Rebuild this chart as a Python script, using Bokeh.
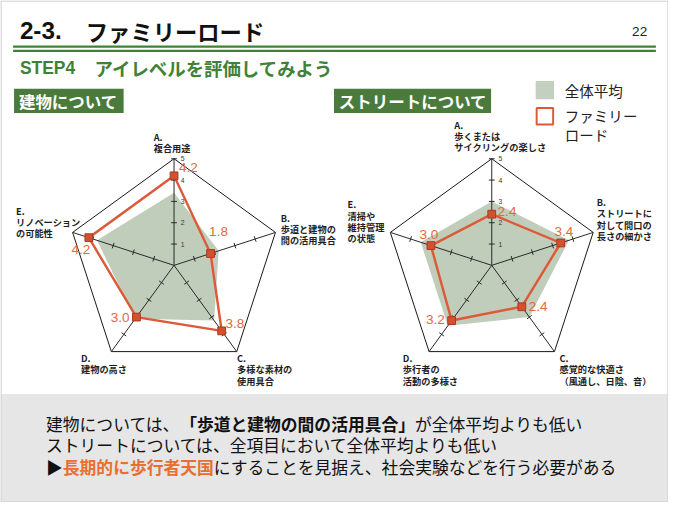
import math
from bokeh.plotting import figure
from bokeh.models import Range1d, ColumnDataSource
from bokeh.core.properties import value, field
from bokeh.embed import file_html
from bokeh.resources import INLINE

# ---------------- data ----------------
building_categories = ["A.\n複合用途", "B.\n歩道と建物の\n間の活用具合", "C.\n多様な素材の\n使用具合",
                       "D.\n建物の高さ", "E.\nリノベーション\nの可能性"]
building_family = [4.2, 1.8, 3.8, 3.0, 4.2]
building_average = [3.4, 2.2, 3.2, 3.1, 3.8]

street_categories = ["A.\n歩くまたは\nサイクリングの楽しさ", "B.\nストリートに\n対して間口の\n長さの細かさ",
                     "C.\n感覚的な快適さ\n（風通し、日陰、音）", "D.\n歩行者の\n活動の多様さ",
                     "E.\n清掃や\n維持管理\nの状態"]
street_family = [2.4, 3.4, 2.4, 3.2, 3.0]
street_average = [3.0, 3.8, 3.0, 3.5, 3.5]

scale_ticks = [1, 2, 3, 4, 5]
max_value = 5
legend_labels = ["全体平均", "ファミリー", "ロード"]

# ---------------- style / layout ----------------
W, H = 668, 502          # canvas in screen px
SW, SH = 689, 518        # slide coordinate system
S = W / SW               # screen px per slide unit


def fs(n):
    return f"{n * S:.2f}px"


JP = "Noto Sans CJK JP"
LAT = "Liberation Sans"
GREEN = "#3f8236"
BOX_GREEN = "#4a7a3c"
AVG_FILL = "#bfcdba"
ORANGE = "#dc5a38"
LABEL_ORANGE = "#e4683f"
R = 110.0
ANGLES = [90, 18, -54, -126, 162]
CAT_LINE = 11.6

p = figure(width=W, height=H, x_range=Range1d(0, SW), y_range=Range1d(SH, 0),
           output_backend="svg", toolbar_location=None, x_axis_type=None, y_axis_type=None,
           min_border=0)
p.grid.visible = False
p.outline_line_color = None
p.background_fill_color = "white"
p.border_fill_color = "white"

# header
p.text(x=[20], y=[31], text=["2-3."], text_font=value(LAT), text_font_style="bold",
       text_font_size=fs(25), text_baseline="middle", text_color="#111111")
p.text(x=[88], y=[31], text=["ファミリーロード"], text_font=value(JP), text_font_style="bold",
       text_font_size=fs(23), text_baseline="middle", text_color="#111111")
p.text(x=[667], y=[32], text=["22"], text_font=value(LAT), text_font_size=fs(14),
       text_baseline="middle", text_align="right", text_color="#222222")
p.segment(x0=[13, 13], x1=[676, 676], y0=[47.7, 51.9], y1=[47.7, 51.9],
          line_color=GREEN, line_width=2.3 * S)
p.text(x=[20], y=[70], text=["STEP4"], text_font=value(LAT), text_font_style="bold",
       text_font_size=fs(18), text_baseline="middle", text_color=GREEN)
p.text(x=[97], y=[70], text=["アイレベルを評価してみよう"], text_font=value(JP), text_font_style="bold",
       text_font_size=fs(19), text_baseline="middle", text_color=GREEN)

# section boxes
p.quad(left=[14, 344], right=[127, 506], top=[91, 91], bottom=[116, 116],
       fill_color=BOX_GREEN, line_color=None)
p.text(x=[19, 349], y=[103.5, 103.5], text=["建物について", "ストリートについて"],
       text_font=value(JP), text_font_style="bold", text_font_size=fs(17),
       text_baseline="middle", text_color="white")

# legend
p.quad(left=[552], right=[571], top=[83], bottom=[102], fill_color="#c3d0c0", line_color=None)
p.quad(left=[553], right=[570], top=[111], bottom=[128], fill_color="white",
       line_color=ORANGE, line_width=2 * S)
p.text(x=[582, 582, 582], y=[92.5, 118.5, 138.5], text=legend_labels, text_font=value(JP),
       text_font_size=fs(15), text_baseline="middle", text_color="#222222")


def pt(cx, cy, v, k):
    a = math.radians(ANGLES[k])
    r = R * v / max_value
    return cx + r * math.cos(a), cy - r * math.sin(a)


def radar(cx, cy, family, average, cats, cat_pos, val_off):
    n = len(family)
    # average polygon
    ax = [pt(cx, cy, average[k], k)[0] for k in range(n)]
    ay = [pt(cx, cy, average[k], k)[1] for k in range(n)]
    p.patch(ax, ay, fill_color=AVG_FILL, line_color=None)
    # outer pentagon
    ox = [pt(cx, cy, max_value, k)[0] for k in range(n)] + [pt(cx, cy, max_value, 0)[0]]
    oy = [pt(cx, cy, max_value, k)[1] for k in range(n)] + [pt(cx, cy, max_value, 0)[1]]
    p.line(ox, oy, line_color="#1a1a1a", line_width=1)
    # spokes
    p.segment(x0=[cx] * n, y0=[cy] * n, x1=ox[:n], y1=oy[:n], line_color="#2a2a2a", line_width=1)
    # ticks
    tx0, ty0, tx1, ty1 = [], [], [], []
    for k in range(n):
        a = math.radians(ANGLES[k])
        nx, ny = math.sin(a), math.cos(a)
        for t in scale_ticks:
            if k != 0 and t == max_value:
                continue
            x, y = pt(cx, cy, t, k)
            tx0.append(x - 3 * nx); ty0.append(y - 3 * ny)
            tx1.append(x + 3 * nx); ty1.append(y + 3 * ny)
    p.segment(x0=tx0, y0=ty0, x1=tx1, y1=ty1, line_color="#2a2a2a", line_width=1)
    # scale numbers on A axis
    p.text(x=[cx + 7] * len(scale_ticks), y=[pt(cx, cy, t, 0)[1] for t in scale_ticks],
           text=[str(t) for t in scale_ticks], text_font=value(LAT), text_font_size=fs(7),
           text_baseline="middle", text_color="#333333")
    # family line + markers
    fx = [pt(cx, cy, family[k], k)[0] for k in range(n)]
    fy = [pt(cx, cy, family[k], k)[1] for k in range(n)]
    p.line(fx + [fx[0]], fy + [fy[0]], line_color=ORANGE, line_width=2.5 * S, line_join="miter")
    p.scatter(fx, fy, marker="square", size=8 * S, fill_color="#d4502f", line_color="#a83a22",
              line_width=1)
    # value labels
    src = ColumnDataSource(dict(x=fx, y=fy, t=[f"{v:.1f}" for v in family],
                                dx=[o[0] * S for o in val_off], dy=[o[1] * S for o in val_off],
                                al=[o[2] for o in val_off]))
    p.text(x="x", y="y", text="t", x_offset=field("dx"), y_offset=field("dy"),
           text_align=field("al"), source=src, text_font=value(LAT), text_font_size=fs(14),
           text_baseline="middle", text_color=LABEL_ORANGE)
    # category labels, one text per line
    lx, ly, lt = [], [], []
    for cat, (x0, y0) in zip(cats, cat_pos):
        for i, line in enumerate(cat.split("\n")):
            lx.append(x0); ly.append(y0 + i * CAT_LINE); lt.append(line)
    p.text(x=lx, y=ly, text=lt, text_font=value(JP), text_font_style="bold",
           text_font_size=fs(9.5), text_baseline="middle", text_align="left", text_color="#1e1e1e")


radar(179, 273.3, building_family, building_average, building_categories,
      [(158, 140.5), (289, 224), (244, 369), (83, 369), (16, 217)],
      [(5, -9, "left"), (-1.5, -23, "left"), (4, -7.5, "left"), (-7, 0, "right"), (1.5, 12.5, "right")])
radar(506.7, 273.3, street_family, street_average, street_categories,
      [(468, 128), (615, 208), (576.5, 369), (415, 369), (358, 210.5)],
      [(6, -3, "left"), (-6.5, -11.5, "left"), (7, -0.5, "left"), (-7, -1.5, "right"), (-2, -11, "center")])

# bottom summary box
p.quad(left=[0], right=[SW], top=[406], bottom=[SH], fill_color="#e6e6e6", line_color=None)
FS = 17.3
lines = [
    (437, [("建物については、", "normal", "#111111"), ("「歩道と建物の間の活用具合」", "bold", "#111111"),
           ("が全体平均よりも低い", "normal", "#111111")]),
    (459, [("ストリートについては、全項目において全体平均よりも低い", "normal", "#111111")]),
    (481, [("▶", "normal", "#111111"), ("長期的に歩行者天国", "bold", "#e86e32"),
           ("にすることを見据え、社会実験などを行う必要がある", "normal", "#111111")]),
]
for y, segs in lines:
    x = 47
    for s, style, col in segs:
        p.text(x=[x], y=[y], text=[s], text_font=value(JP), text_font_style=style,
               text_font_size=fs(FS), text_baseline="middle", text_color=col)
        x += len(s) * FS

# slide frame
p.quad(left=[0.5], right=[SW - 0.5], top=[0.5], bottom=[SH - 0.5], fill_color=None,
       line_color="#d6d6d6", line_width=1.5)

open("out.html", "w").write(file_html(p, INLINE))
